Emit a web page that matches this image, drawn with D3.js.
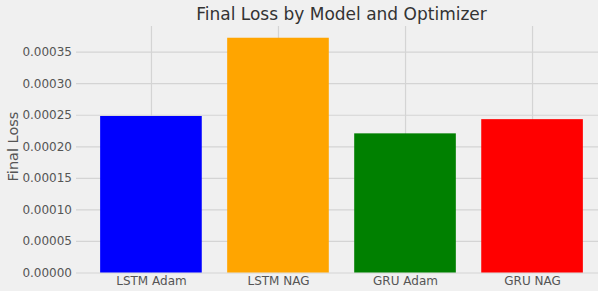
<!DOCTYPE html>
<html><head><meta charset="utf-8">
<script src="https://cdn.jsdelivr.net/npm/d3@7"></script>
<style>body{margin:0;background:#f0f0f0;}svg{display:block;}</style>
</head><body>
<script>
const categories = ["LSTM Adam", "LSTM NAG", "GRU Adam", "GRU NAG"];
const finalLoss = [0.000248, 0.000372, 0.0002205, 0.000243];
const barColors = ["blue", "orange", "green", "red"];
const yTicks = [0, 0.00005, 0.0001, 0.00015, 0.0002, 0.00025, 0.0003, 0.00035];
const title = "Final Loss by Model and Optimizer";
const yLabel = "Final Loss";

(function () {
const W = 598, H = 291;
const mLeft = 76, mRight = 607, mTop = 26, mBottom = 272.5;
const svg = d3.select("body").append("svg").attr("width", W).attr("height", H);
svg.append("rect").attr("width", W).attr("height", H).attr("fill", "#f0f0f0");

const n = categories.length;
const x = d3.scaleLinear().domain([-0.59, n - 1 + 0.59]).range([mLeft, mRight]);
const y = d3.scaleLinear().domain([0, d3.max(finalLoss) * 1.05]).range([mBottom, mTop]);
const font = "DejaVu Sans, sans-serif";

const yAxis = d3.axisLeft(y).tickValues(yTicks).tickFormat(d3.format(".5f")).tickSize(-(mRight - mLeft)).tickPadding(4);
const gy = svg.append("g").attr("transform", `translate(${mLeft},0)`).call(yAxis);
gy.select(".domain").remove();
gy.selectAll("line").attr("stroke", "#d4d4d4").attr("stroke-width", 1.2);
gy.selectAll("text").attr("fill", "#555").attr("font-family", font).attr("font-size", 12);

const xAxis = d3.axisBottom(x).tickValues(d3.range(n)).tickFormat(i => categories[i]).tickSize(-(mBottom - mTop)).tickPadding(4);
const gx = svg.append("g").attr("transform", `translate(0,${mBottom})`).call(xAxis);
gx.select(".domain").remove();
gx.selectAll("line").attr("stroke", "#d4d4d4").attr("stroke-width", 1.2);
gx.selectAll("text").attr("fill", "#555").attr("font-family", font).attr("font-size", 12);

svg.append("g").selectAll("rect").data(finalLoss).join("rect")
  .attr("x", (d, i) => x(i - 0.4))
  .attr("width", (d, i) => x(i + 0.4) - x(i - 0.4))
  .attr("y", d => y(d))
  .attr("height", d => y(0) - y(d))
  .attr("fill", (d, i) => barColors[i]);

svg.append("text").attr("x", (mLeft + mRight) / 2).attr("y", 20).attr("text-anchor", "middle")
  .attr("font-family", font).attr("font-size", 17).attr("fill", "#333").text(title);

svg.append("text").attr("transform", `translate(17.5,146.5) rotate(-90)`)
  .attr("text-anchor", "middle").attr("font-family", font).attr("font-size", 14.5)
  .attr("fill", "#555").text(yLabel);
})();
</script>
</body></html>
